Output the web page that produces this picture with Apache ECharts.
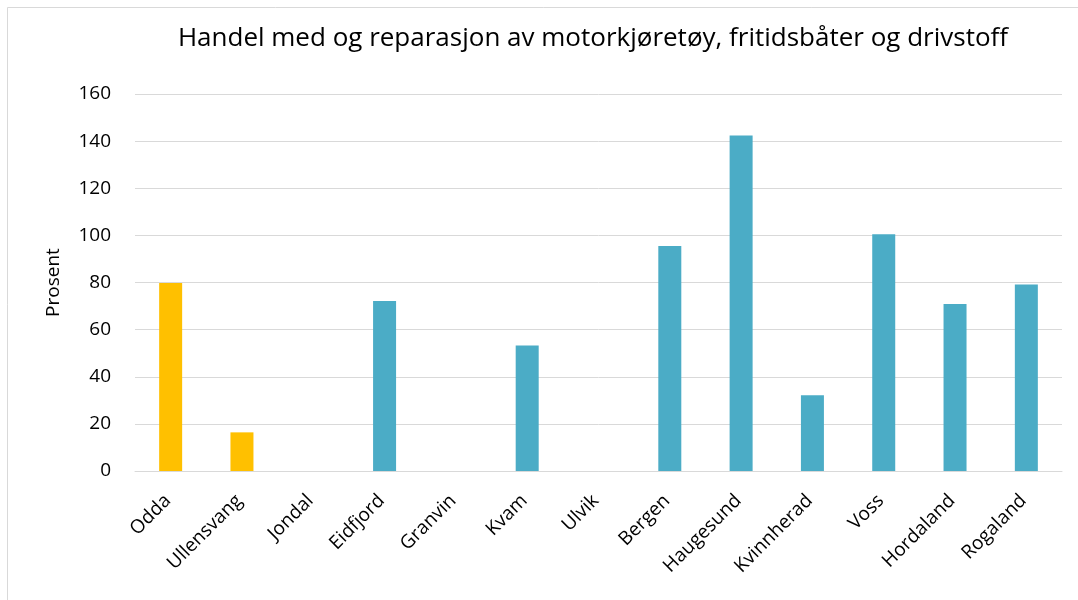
<!DOCTYPE html>
<html>
<head>
<meta charset="utf-8">
<script src="https://cdn.jsdelivr.net/npm/echarts@6/dist/echarts.min.js"></script>
<style>
  html, body { margin: 0; padding: 0; background: #fff; }
  #chart { width: 1078px; height: 600px; }
</style>
</head>
<body>
<div id="chart"></div>
<script>
// Kommuner og fylker
const categories = ['Odda', 'Ullensvang', 'Jondal', 'Eidfjord', 'Granvin', 'Kvam', 'Ulvik',
  'Bergen', 'Haugesund', 'Kvinnherad', 'Voss', 'Hordaland', 'Rogaland'];
// Prosent (tomme verdier der det ikke finnes tall)
const values = [79.8, 16.4, null, 72.2, null, 53.3, null, 95.5, 142.4, 32.1, 100.5, 70.9, 79.1];
// De to første kommunene utheves i gult
const highlighted = ['Odda', 'Ullensvang'];
const yTicks = [0, 20, 40, 60, 80, 100, 120, 140, 160];

const font = '"Open Sans", "Liberation Sans", sans-serif';
const chart = echarts.init(document.getElementById('chart'));
chart.setOption({
  animation: false,
  backgroundColor: '#fff',
  graphic: [{
    type: 'rect',
    shape: { x: 7.5, y: 7.5, width: 1100, height: 620 },
    style: { fill: 'none', stroke: '#d9d9d9', lineWidth: 1 },
    silent: true
  }],
  title: {
    text: 'Handel med og reparasjon av motorkjøretøy, fritidsbåter og drivstoff',
    left: 588, top: 21, textAlign: 'center',
    textStyle: { fontFamily: font, fontSize: 26, fontWeight: 'normal', color: '#000' }
  },
  grid: { left: 135, right: 16, top: 94, bottom: 129 },
  xAxis: {
    type: 'category',
    data: categories,
    axisLine: { lineStyle: { color: '#d9d9d9' } },
    axisTick: { show: false },
    axisLabel: {
      rotate: 45, interval: 0, margin: 24, padding: [0, 4, 0, 0],
      color: '#000', fontFamily: font, fontSize: 19
    }
  },
  yAxis: {
    type: 'value',
    min: yTicks[0], max: yTicks[yTicks.length - 1], interval: 20,
    name: 'Prosent', nameLocation: 'middle', nameGap: 72,
    nameTextStyle: { fontFamily: font, fontSize: 19, color: '#000' },
    axisLine: { show: false },
    axisTick: { show: false },
    axisLabel: { color: '#000', fontFamily: font, fontSize: 19, margin: 24 },
    splitLine: { lineStyle: { color: '#d9d9d9' } }
  },
  series: [{
    type: 'bar',
    barWidth: 23,
    data: categories.map((c, i) => ({
      value: values[i],
      itemStyle: { color: highlighted.includes(c) ? '#FFC000' : '#4BACC6' }
    }))
  }]
});
</script>
</body>
</html>
